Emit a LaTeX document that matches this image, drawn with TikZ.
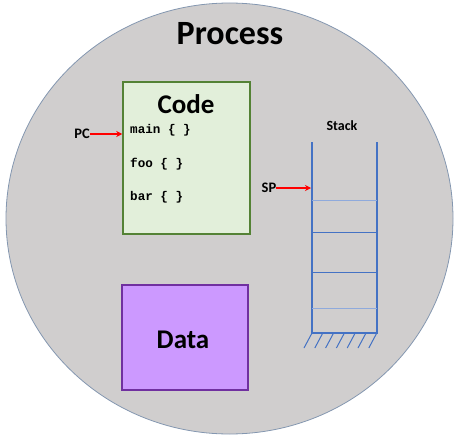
\documentclass[tikz,border=0pt]{standalone}
\usepackage{fontspec}
\setmainfont{Carlito}
\newfontfamily\codefont{Liberation Mono}
\usetikzlibrary{arrows.meta}
\begin{document}
\begin{tikzpicture}[x=1pt,y=-1pt,
  lbl/.style={font=\bfseries, inner sep=0pt},
  codetxt/.style={font=\codefont\bfseries\fontsize{12.6}{14}\selectfont, inner sep=0pt, anchor=west},
  redarrow/.style={draw=red, line width=1.4pt, -{Stealth[length=6pt,width=6pt]}},
]
\useasboundingbox (0,0) rectangle (457,441);
\definecolor{procfill}{HTML}{D0CECE}
\definecolor{procline}{HTML}{8497B0}
\definecolor{codefill}{HTML}{E2EFDA}
\definecolor{codeline}{HTML}{548235}
\definecolor{datafill}{HTML}{CC99FF}
\definecolor{dataline}{HTML}{7030A0}
\definecolor{stk}{HTML}{4472C4}
\definecolor{stklight}{HTML}{8FAADC}
% process ellipse
\fill[procfill] (229.5,218.5) ellipse [x radius=223.5, y radius=215.5];
\draw[procline, line width=0.8pt] (229.5,218.5) ellipse [x radius=223.5, y radius=215.5];
\node[lbl, font=\bfseries\fontsize{34}{36}\selectfont] (ptitle) at (230,34) {Process};
% code box
\node[draw=codeline, fill=codefill, line width=1.5pt, minimum width=127pt, minimum height=152pt, inner sep=0pt] (code) at (186.5,158) {};
\node[lbl, font=\bfseries\fontsize{27}{29}\selectfont] (codetitle) at (186,104) {Code};
\node[codetxt] (main) at (130,130) {main \{ \}};
\node[codetxt] (foo) at (130,164) {foo \{ \}};
\node[codetxt] (bar) at (130,197) {bar \{ \}};
\node[lbl, font=\bfseries\fontsize{14.5}{16}\selectfont] (pc) at (82,134) {PC};
\coordinate (pctip) at (code.west |- pc);
\draw[redarrow] (pc.east) -- (pctip);
% data box
\node[draw=dataline, fill=datafill, line width=1.5pt, minimum width=126pt, minimum height=105pt, inner sep=0pt] (data) at (185,337.5) {};
\node[lbl, font=\bfseries\fontsize{27}{29}\selectfont] at (183,340) (datatitle) {Data};
% stack
\coordinate (sl) at (312,142);
\coordinate (sr) at (377,142);
\coordinate (bl) at (312,333);
\coordinate (br) at (377,333);
\draw[stk, line width=1.2pt] (sl) -- (bl) -- (br) -- (sr);
\draw[stklight, line width=1pt] (312,200) -- (377,200);
\draw[stk, line width=0.9pt] (312,232) -- (377,232);
\draw[stk, line width=0.9pt] (312,272) -- (377,272);
\draw[stklight, line width=1pt] (312,308) -- (377,308);
\foreach \i in {0,...,6} {
  \draw[stk, line width=1pt] (312+10.8*\i,333) -- (304+10.8*\i,348);
}
\node[lbl, font=\bfseries\fontsize{14}{16}\selectfont] (stacklbl) at (342,126) {Stack};
\node[lbl, font=\bfseries\fontsize{14.5}{16}\selectfont] (sp) at (269,188) {SP};
\coordinate (sptip) at (311,188);
\draw[redarrow] (sp.east) -- (sptip);
\end{tikzpicture}
\end{document}
